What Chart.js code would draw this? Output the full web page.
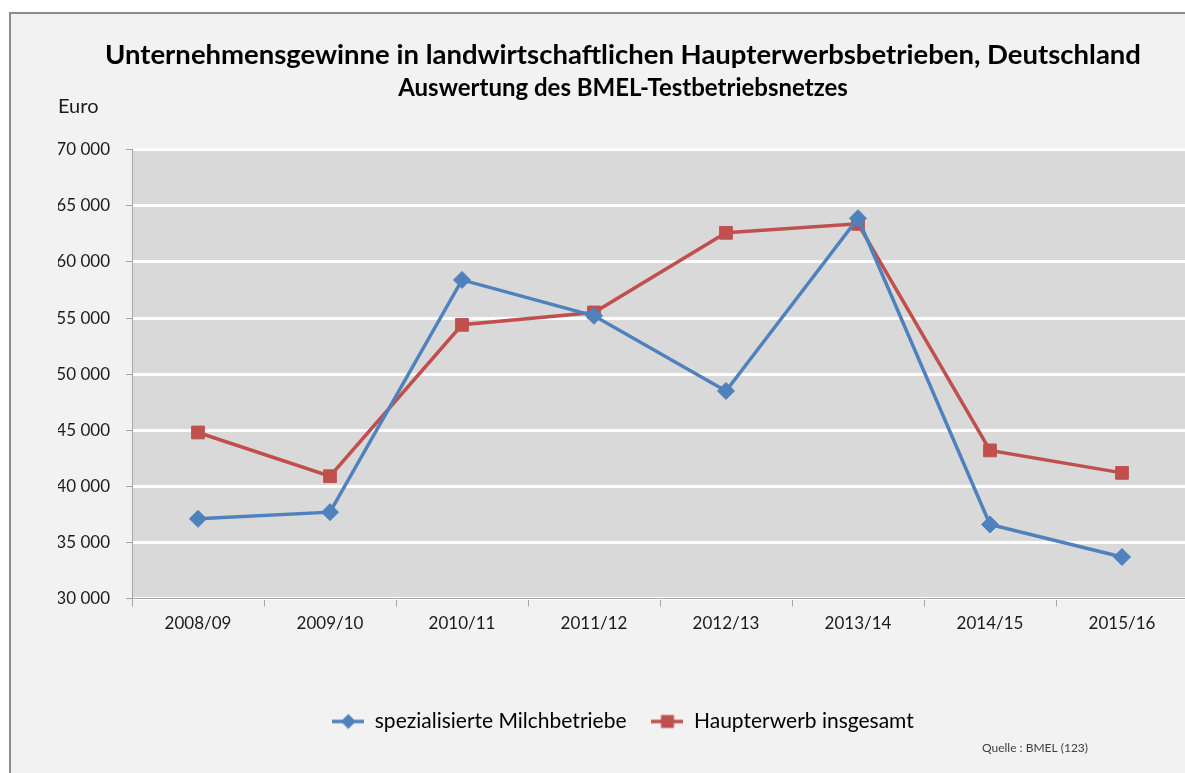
<!DOCTYPE html>
<html>
<head>
<meta charset="utf-8">
<script src="https://cdn.jsdelivr.net/npm/chart.js@4.4.0/dist/chart.umd.min.js"></script>
<style>
  html, body { margin: 0; padding: 0; background: #fff; overflow: hidden; width: 1185px; height: 773px; }
  #frame { position: absolute; left: 9px; top: 12px; width: 1300px; height: 900px; border: 2px solid #8c8c8c; background: #f2f2f2; }
  #chart { position: absolute; left: 0; top: 0; }
</style>
</head>
<body>
<div id="frame"></div>
<canvas id="chart" width="1200" height="773"></canvas>
<script>
const seasons = ['2008/09', '2009/10', '2010/11', '2011/12', '2012/13', '2013/14', '2014/15', '2015/16'];
const milchValues = [37100, 37700, 58400, 55200, 48500, 63900, 36600, 33700];
const hauptValues = [44800, 40900, 54400, 55500, 62600, 63400, 43200, 41200];
const yTicks = [30000, 35000, 40000, 45000, 50000, 55000, 60000, 65000, 70000];

const blue = '#4f81bd';
const red = '#c0504d';
const fontFamily = 'Lato, "Open Sans", sans-serif';

const formatThousands = (value) => String(value).replace(/\B(?=(\d{3})+(?!\d))/g, ' ');

// small canvas icons so the legend shows line + marker like Excel
const makeLegendIcon = (color, shape) => {
  const icon = document.createElement('canvas');
  icon.width = 32;
  icon.height = 18;
  const ctx = icon.getContext('2d');
  ctx.strokeStyle = color;
  ctx.lineWidth = 3.5;
  ctx.beginPath();
  ctx.moveTo(0, 9);
  ctx.lineTo(32, 9);
  ctx.stroke();
  ctx.fillStyle = color;
  ctx.beginPath();
  if (shape === 'diamond') {
    ctx.moveTo(16, 1.5); ctx.lineTo(23.5, 9); ctx.lineTo(16, 16.5); ctx.lineTo(8.5, 9);
  } else {
    ctx.rect(9.5, 2.5, 13, 13);
  }
  ctx.closePath();
  ctx.fill();
  return icon;
};
const legendIcons = [makeLegendIcon(blue, 'diamond'), makeLegendIcon(red, 'square')];

const plotBackground = {
  id: 'plotBackground',
  beforeDraw(chart) {
    const { ctx, chartArea } = chart;
    ctx.save();
    ctx.fillStyle = '#d9d9d9';
    ctx.fillRect(chartArea.left, chartArea.top, chartArea.right - chartArea.left, chartArea.bottom - chartArea.top);
    ctx.restore();
  },
  afterDraw(chart) {
    const { ctx } = chart;
    ctx.save();
    ctx.fillStyle = '#1a1a1a';
    ctx.textBaseline = 'middle';
    ctx.textAlign = 'left';
    ctx.font = '20px ' + fontFamily;
    ctx.fillText('Euro', 58, 107);
    ctx.fillStyle = '#404040';
    ctx.font = '12px ' + fontFamily;
    ctx.fillText('Quelle : BMEL (123)', 982, 748);
    ctx.restore();
  },
};

new Chart(document.getElementById('chart'), {
  type: 'line',
  data: {
    labels: seasons,
    datasets: [
      { label: 'spezialisierte Milchbetriebe', data: milchValues, borderColor: blue, backgroundColor: blue, borderWidth: 3.5, pointStyle: 'rectRot', pointRadius: 8.5, pointBorderWidth: 1, tension: 0 },
      { label: 'Haupterwerb insgesamt', data: hauptValues, borderColor: red, backgroundColor: red, borderWidth: 3.5, pointStyle: 'rect', pointRadius: 9, pointBorderWidth: 1, tension: 0 },
    ],
  },
  options: {
    responsive: false,
    animation: false,
    layout: { padding: { left: 58, right: 12, top: 0, bottom: 31 } },
    plugins: {
      title: { display: true, text: 'Unternehmensgewinne in landwirtschaftlichen Haupterwerbsbetrieben, Deutschland', color: '#000', font: { family: fontFamily, size: 27.5, weight: 'bold' }, padding: { top: 39, bottom: 0 } },
      subtitle: { display: true, text: 'Auswertung des BMEL-Testbetriebsnetzes', color: '#000', font: { family: fontFamily, size: 24, weight: 'bold' }, padding: { top: 2, bottom: 47 } },
      legend: {
        position: 'bottom',
        labels: {
          color: '#000',
          font: { family: fontFamily, size: 21 },
          usePointStyle: true,
          pointStyleWidth: 32,
          padding: 25,
          generateLabels: (chart) => Chart.defaults.plugins.legend.labels.generateLabels(chart).map((item, index) => ({ ...item, pointStyle: legendIcons[index] })),
        },
      },
      tooltip: { enabled: false },
    },
    scales: {
      x: {
        offset: true,
        afterFit: (scale) => { scale.height = 87.5; },
        grid: { offset: true, drawOnChartArea: false, tickLength: 8, tickColor: '#a6a6a6', tickWidth: 1 },
        border: { color: '#a6a6a6', width: 1 },
        ticks: { color: '#1a1a1a', font: { family: fontFamily, size: 17 }, padding: 7, maxRotation: 0 },
      },
      y: {
        min: 30000,
        max: 70000,
        afterFit: (scale) => { scale.width = 74; },
        afterBuildTicks: (scale) => { scale.ticks = yTicks.map((value) => ({ value })); },
        grid: { color: '#ffffff', lineWidth: 3, tickLength: 6, tickColor: '#a6a6a6', tickWidth: 1 },
        border: { color: '#a6a6a6', width: 1 },
        ticks: { color: '#1a1a1a', font: { family: fontFamily, size: 17 }, padding: 16, callback: (value) => formatThousands(value) },
      },
    },
  },
  plugins: [plotBackground],
});
</script>
</body>
</html>
